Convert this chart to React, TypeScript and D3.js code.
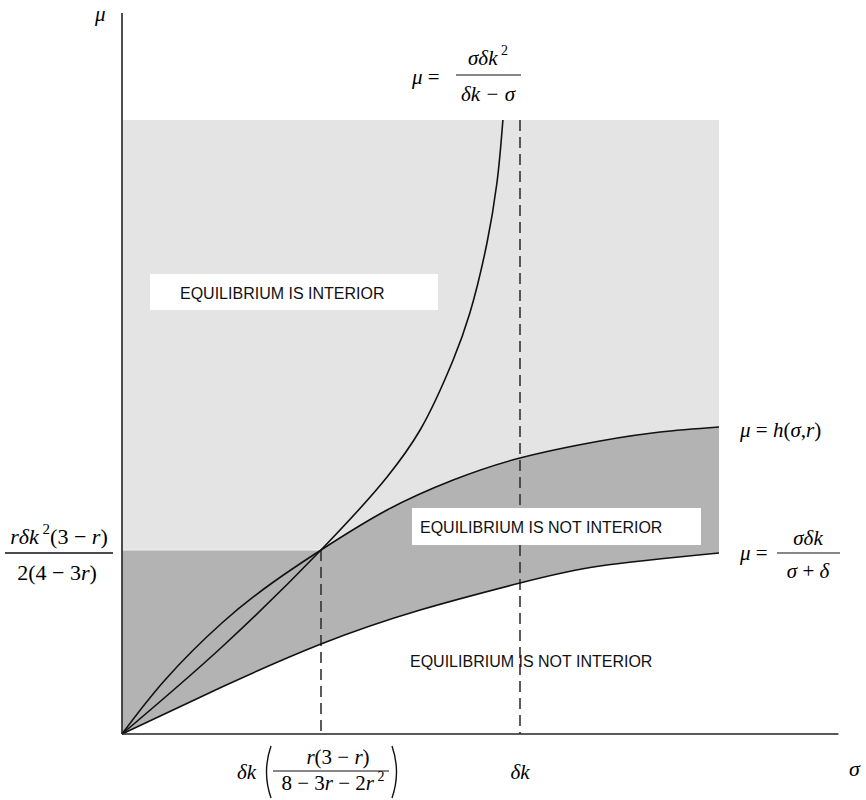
import * as d3 from "d3";

// sigma in units of δk (δk = 1), mu in chart units
const lowerSigma = [0, 0.251, 0.5, 0.749, 1, 1.201, 1.5];
const lowerMu = [0, 0.47, 0.9, 1.24, 1.51, 1.68, 1.81];

const hSigma = [0, 0.108, 0.251, 0.377, 0.5, 0.666, 0.832, 1, 1.201, 1.352, 1.5];
const hMu = [0, 0.54, 1.11, 1.51, 1.84, 2.24, 2.54, 2.76, 2.93, 3.02, 3.07];

const hypSigma = [0, 0.251, 0.5, 0.666, 0.749, 0.832, 0.874, 0.917, 0.942, 0.957];
const hypMu = [0, 0.87, 1.84, 2.57, 3.04, 3.74, 4.21, 4.91, 5.51, 6.14];

const sigmaStar = 0.5; // δk(r(3-r)/(8-3r-2r²))
const muStar = 1.84; // rδk²(3-r)/(2(4-3r))
const deltaK = 1;
const regionSigmaMax = 1.5;
const regionMuMax = 6.14;

const W = 866;
const H = 800;
const serif = "'Liberation Serif', 'Times New Roman', serif";
const sans = "'Liberation Sans', Arial, sans-serif";

export default function App() {
  const x = d3.scaleLinear().domain([0, 1.8]).range([122, 838.4]);
  const y = d3.scaleLinear().domain([0, 7.21]).range([734, 13]);

  const lower = lowerSigma.map((s, i) => [s, lowerMu[i]] as [number, number]);
  const hCurve = hSigma.map((s, i) => [s, hMu[i]] as [number, number]);
  const hyp = hypSigma.map((s, i) => [s, hypMu[i]] as [number, number]);

  const smooth = d3
    .line<[number, number]>()
    .x((d) => x(d[0]))
    .y((d) => y(d[1]))
    .curve(d3.curveNatural);

  const steep = d3
    .line<[number, number]>()
    .x((d) => x(d[0]))
    .y((d) => y(d[1]))
    .curve(d3.curveCatmullRom.alpha(0.5));

  const areaUnder = d3
    .area<[number, number]>()
    .x((d) => x(d[0]))
    .y0(y(0))
    .y1((d) => y(d[1]))
    .curve(d3.curveNatural);

  const light = "#e4e4e4";
  const dark = "#b3b3b3";
  const ink = "#111";

  const it = { fontStyle: "italic" as const };

  return (
    <svg
      width={W}
      height={H}
      style={{ position: "absolute", left: 0, top: 0, background: "#fff" }}
      fontFamily={serif}
    >
      {/* regions */}
      <rect
        x={x(0)}
        y={y(regionMuMax)}
        width={x(regionSigmaMax) - x(0)}
        height={y(0) - y(regionMuMax)}
        fill={light}
      />
      <path d={areaUnder(hCurve) ?? ""} fill={dark} />
      <rect
        x={x(0)}
        y={y(muStar)}
        width={x(sigmaStar) - x(0)}
        height={y(0) - y(muStar)}
        fill={dark}
      />
      <path d={areaUnder(lower) ?? ""} fill="#fff" />
      <line
        x1={x(0)}
        x2={x(sigmaStar)}
        y1={y(muStar)}
        y2={y(muStar)}
        stroke="#f2f2f2"
        strokeWidth={1.2}
      />

      {/* dashed guides */}
      <line
        x1={x(sigmaStar)}
        x2={x(sigmaStar)}
        y1={y(muStar)}
        y2={y(0)}
        stroke="#333"
        strokeWidth={1.6}
        strokeDasharray="11,6"
      />
      <line
        x1={x(deltaK)}
        x2={x(deltaK)}
        y1={y(regionMuMax)}
        y2={y(0)}
        stroke="#333"
        strokeWidth={1.6}
        strokeDasharray="11,6"
      />

      {/* curves */}
      <g fill="none" stroke={ink} strokeWidth={1.6}>
        <path d={smooth(lower) ?? ""} />
        <path d={smooth(hCurve) ?? ""} />
        <path d={steep(hyp) ?? ""} />
      </g>

      {/* axes */}
      <g stroke="#222" strokeWidth={1.6}>
        <line x1={x(0)} x2={x(0)} y1={y(7.21)} y2={y(0)} />
        <line x1={x(0)} x2={x(1.8)} y1={y(0)} y2={y(0)} />
      </g>

      {/* boxes and region texts */}
      <rect x={150} y={274} width={288} height={36} fill="#fff" />
      <text x={180} y={299} fontFamily={sans} fontSize={16} fill="#111">
        EQUILIBRIUM IS INTERIOR
      </text>
      <rect x={412} y={508} width={289} height={37} fill="#fff" />
      <text x={420} y={533} fontFamily={sans} fontSize={16} fill="#111">
        EQUILIBRIUM IS NOT INTERIOR
      </text>
      <text x={410} y={667} fontFamily={sans} fontSize={16} fill="#111">
        EQUILIBRIUM IS NOT INTERIOR
      </text>

      {/* axis titles */}
      <text x={95} y={21} fontSize={21} style={it}>μ</text>
      <text x={849} y={776} fontSize={22} style={it}>σ</text>

      {/* x tick: δk */}
      <text x={x(deltaK)} y={779} fontSize={21} textAnchor="middle" style={it}>
        δk
      </text>

      {/* x tick: δk( r(3−r) / (8−3r−2r²) ) */}
      <g fontSize={21}>
        <text x={237} y={779} style={it}>δk</text>
        <path
          d="M271,746 Q262,772 271,798"
          fill="none"
          stroke={ink}
          strokeWidth={1.4}
        />
        <text x={338} y={764} textAnchor="middle">
          <tspan style={it}>r</tspan>(3 − <tspan style={it}>r</tspan>)
        </text>
        <line x1={273} x2={389} y1={771} y2={771} stroke={ink} strokeWidth={1.2} />
        <text x={333} y={790} textAnchor="middle">
          8 − 3<tspan style={it}>r</tspan> − 2<tspan style={it}>r</tspan>
          <tspan dy={-9} fontSize={14}> 2</tspan>
        </text>
        <path
          d="M392,746 Q401,772 392,798"
          fill="none"
          stroke={ink}
          strokeWidth={1.4}
        />
      </g>

      {/* y tick: rδk²(3−r) / 2(4−3r) */}
      <g fontSize={22}>
        <text x={59} y={y(muStar) - 6} textAnchor="middle">
          <tspan style={it}>rδk</tspan>
          <tspan dy={-10} fontSize={15}> 2</tspan>
          <tspan dy={10}>(3 − </tspan>
          <tspan style={it}>r</tspan>)
        </text>
        <line x1={5} x2={113} y1={y(muStar) + 3} y2={y(muStar) + 3} stroke={ink} strokeWidth={1.3} />
        <text x={57} y={y(muStar) + 30} textAnchor="middle">
          2(4 − 3<tspan style={it}>r</tspan>)
        </text>
      </g>

      {/* hyperbola label */}
      <g fontSize={21}>
        <text x={412} y={84}>
          <tspan style={it}>μ</tspan> =
        </text>
        <text x={488} y={65} textAnchor="middle">
          <tspan style={it}>σδk</tspan>
          <tspan dy={-10} fontSize={14}> 2</tspan>
        </text>
        <line x1={456} x2={521} y1={75} y2={75} stroke={ink} strokeWidth={1.2} />
        <text x={488} y={101} textAnchor="middle" style={it}>
          δk − σ
        </text>
      </g>

      {/* h label */}
      <text x={740} y={437} fontSize={21}>
        <tspan style={it}>μ</tspan> = <tspan style={it}>h</tspan>(
        <tspan style={it}>σ</tspan>,<tspan style={it}>r</tspan>)
      </text>

      {/* lower curve label */}
      <g fontSize={21}>
        <text x={740} y={560}>
          <tspan style={it}>μ</tspan> =
        </text>
        <text x={808} y={545} textAnchor="middle" style={it}>
          σδk
        </text>
        <line x1={777} x2={840} y1={553} y2={553} stroke={ink} strokeWidth={1.2} />
        <text x={808} y={578} textAnchor="middle">
          <tspan style={it}>σ</tspan> + <tspan style={it}>δ</tspan>
        </text>
      </g>
    </svg>
  );
}
